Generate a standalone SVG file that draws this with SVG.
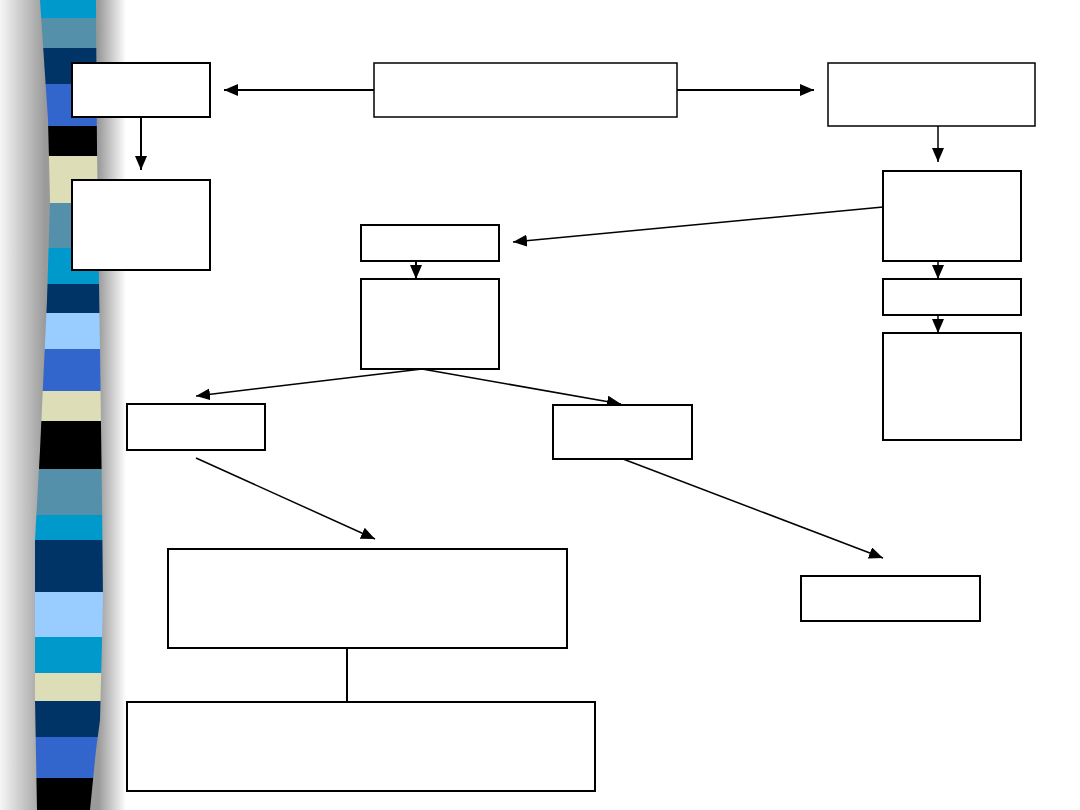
<svg xmlns="http://www.w3.org/2000/svg" width="1080" height="810" viewBox="0 0 1080 810">
<defs>
<linearGradient id="shade" x1="0" y1="0" x2="1" y2="0">
<stop offset="0" stop-color="#f6f6f6"/>
<stop offset="0.36" stop-color="#9a9a9a"/>
<stop offset="0.78" stop-color="#9a9a9a"/>
<stop offset="1" stop-color="#ffffff"/>
</linearGradient>
<clipPath id="stripClip">
<path d="M40,0 L48,120 L50,200 L47,300 L40,450 L35,540 L35,700 L37,810 L90,810 L96,750 L100,720 L103,600 L102,500 L100,350 L97,150 L96,0 Z"/>
</clipPath>
<marker id="ah" viewBox="0 0 14 12" refX="14" refY="6" markerWidth="14" markerHeight="12" markerUnits="userSpaceOnUse" orient="auto">
<path d="M0,0 L14,6 L0,12 Z" fill="#000"/>
</marker>
</defs>
<style>
.box{fill:#fff;stroke:#000;stroke-width:2}
.thin{stroke-width:1.5}
.c{stroke:#000;fill:none}
.h{stroke-width:2}
.d{stroke-width:1.5}
</style>
<rect x="0" y="0" width="1080" height="810" fill="#fff"/>
<g id="strip">
<rect x="0" y="0" width="126" height="810" fill="url(#shade)"/>
<g clip-path="url(#stripClip)">
<rect x="0" y="0" width="126" height="18" fill="#0099cc"/>
<rect x="0" y="18" width="126" height="30" fill="#5590aa"/>
<rect x="0" y="48" width="126" height="36" fill="#003366"/>
<rect x="0" y="84" width="126" height="42" fill="#3366cc"/>
<rect x="0" y="126" width="126" height="30" fill="#000"/>
<rect x="0" y="156" width="126" height="47" fill="#ddddb8"/>
<rect x="0" y="203" width="126" height="45" fill="#5590aa"/>
<rect x="0" y="248" width="126" height="36" fill="#0099cc"/>
<rect x="0" y="284" width="126" height="29" fill="#003366"/>
<rect x="0" y="313" width="126" height="36" fill="#99ccff"/>
<rect x="0" y="349" width="126" height="42" fill="#3366cc"/>
<rect x="0" y="391" width="126" height="30" fill="#ddddb8"/>
<rect x="0" y="421" width="126" height="48" fill="#000"/>
<rect x="0" y="469" width="126" height="46" fill="#5590aa"/>
<rect x="0" y="515" width="126" height="25" fill="#0099cc"/>
<rect x="0" y="540" width="126" height="52" fill="#003366"/>
<rect x="0" y="592" width="126" height="45" fill="#99ccff"/>
<rect x="0" y="637" width="126" height="36" fill="#0099cc"/>
<rect x="0" y="673" width="126" height="28" fill="#ddddb8"/>
<rect x="0" y="701" width="126" height="36" fill="#003366"/>
<rect x="0" y="737" width="126" height="41" fill="#3366cc"/>
<rect x="0" y="778" width="126" height="32" fill="#000"/>
</g>
</g>
<g id="connectors">
<line class="c h" x1="374" y1="90" x2="224" y2="90" marker-end="url(#ah)"/>
<line class="c h" x1="677" y1="90" x2="814" y2="90" marker-end="url(#ah)"/>
<line class="c h" x1="141" y1="117" x2="141" y2="170" marker-end="url(#ah)"/>
<line class="c d" x1="938" y1="126" x2="938" y2="162" marker-end="url(#ah)"/>
<line class="c d" x1="883" y1="207" x2="513" y2="242" marker-end="url(#ah)"/>
<line class="c d" x1="938" y1="261" x2="938" y2="279" marker-end="url(#ah)"/>
<line class="c d" x1="938" y1="315" x2="938" y2="333" marker-end="url(#ah)"/>
<line class="c h" x1="416" y1="261" x2="416" y2="279" marker-end="url(#ah)"/>
<line class="c d" x1="422" y1="369" x2="196" y2="396" marker-end="url(#ah)"/>
<line class="c d" x1="422" y1="369" x2="621" y2="404" marker-end="url(#ah)"/>
<line class="c d" x1="196" y1="458" x2="375" y2="539" marker-end="url(#ah)"/>
<line class="c d" x1="623" y1="459" x2="883" y2="558" marker-end="url(#ah)"/>
<line class="c h" x1="347" y1="648" x2="347" y2="702"/>
</g>
<g id="n1"><rect class="box" x="72" y="63" width="138" height="54"/></g>
<g id="n2"><rect class="box" x="72" y="180" width="138" height="90"/></g>
<g id="n3"><rect class="box thin" x="374" y="63" width="303" height="54"/></g>
<g id="n4"><rect class="box thin" x="828" y="63" width="207" height="63"/></g>
<g id="n5"><rect class="box" x="883" y="171" width="138" height="90"/></g>
<g id="n6"><rect class="box" x="883" y="279" width="138" height="36"/></g>
<g id="n7"><rect class="box" x="883" y="333" width="138" height="107"/></g>
<g id="n8"><rect class="box" x="361" y="225" width="138" height="36"/></g>
<g id="n9"><rect class="box" x="361" y="279" width="138" height="90"/></g>
<g id="n10"><rect class="box" x="553" y="405" width="139" height="54"/></g>
<g id="n11"><rect class="box" x="127" y="404" width="138" height="46"/></g>
<g id="n12"><rect class="box" x="168" y="549" width="399" height="99"/></g>
<g id="n13"><rect class="box" x="127" y="702" width="468" height="89"/></g>
<g id="n14"><rect class="box" x="801" y="576" width="179" height="45"/></g>
</svg>
